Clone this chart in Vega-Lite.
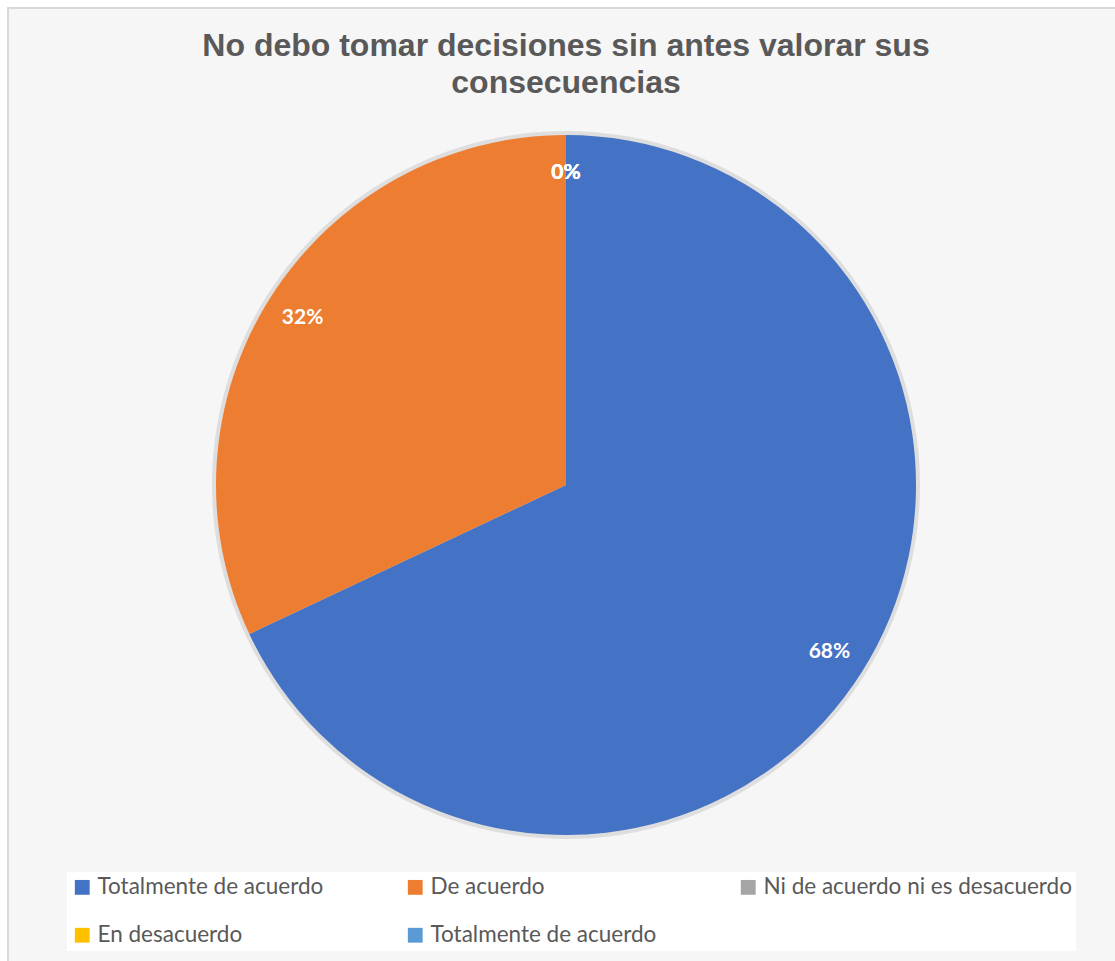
{
  "$schema": "https://vega.github.io/schema/vega-lite/v6.json",
  "width": 1116,
  "height": 954,
  "padding": {"left": 8, "top": 8, "right": 0, "bottom": 0},
  "autosize": {"type": "none"},
  "background": "white",
  "view": {"fill": "#f6f6f6", "stroke": "#d9d9d9", "strokeWidth": 2},
  "title": {
    "text": ["No debo tomar decisiones sin antes valorar sus", "consecuencias"],
    "font": "Liberation Sans",
    "fontSize": 32,
    "fontWeight": "bold",
    "color": "#595959",
    "anchor": "middle",
    "baseline": "top",
    "lineHeight": 37,
    "offset": -92
  },
  "data": {
    "values": [
      {"respuesta": "Totalmente de acuerdo", "proporcion": 0.68, "orden": 1},
      {"respuesta": "De acuerdo", "proporcion": 0.32, "orden": 2},
      {"respuesta": "Ni de acuerdo ni es desacuerdo", "proporcion": 0, "orden": 3},
      {"respuesta": "En desacuerdo", "proporcion": 0, "orden": 4},
      {"respuesta": "Totalmente de acuerdo ", "proporcion": 0, "orden": 5}
    ]
  },
  "encoding": {
    "theta": {"field": "proporcion", "type": "quantitative", "stack": true},
    "order": {"field": "orden", "type": "quantitative"}
  },
  "layer": [
    {
      "mark": {"type": "arc", "radius": 354, "fill": "#cfcfcf", "opacity": 0.6}
    },
    {
      "mark": {"type": "arc", "radius": 350},
      "encoding": {
        "color": {
          "field": "respuesta",
          "type": "nominal",
          "scale": {
            "domain": ["Totalmente de acuerdo", "De acuerdo", "Ni de acuerdo ni es desacuerdo", "En desacuerdo", "Totalmente de acuerdo "],
            "range": ["#4472C4", "#ED7D31", "#A5A5A5", "#FFC000", "#5B9BD5"]
          },
          "legend": {
            "title": null,
            "orient": "none",
            "legendX": 59,
            "legendY": 864,
            "direction": "horizontal",
            "columns": 3,
            "columnPadding": 80,
            "rowPadding": 25,
            "padding": 4,
            "fillColor": "white",
            "symbolType": "square",
            "symbolSize": 220,
            "symbolStrokeWidth": 0,
            "symbolOffset": 0,
            "labelFont": "Lato",
            "labelFontSize": 22.5,
            "labelColor": "#595959",
            "labelOffset": 4,
            "labelLimit": 400
          }
        }
      }
    },
    {
      "mark": {"type": "text", "radius": 312, "font": "Lato", "fontSize": 21, "fontWeight": "bold", "fill": "white"},
      "encoding": {
        "text": {"field": "proporcion", "type": "quantitative", "format": ".0%"}
      }
    }
  ]
}
